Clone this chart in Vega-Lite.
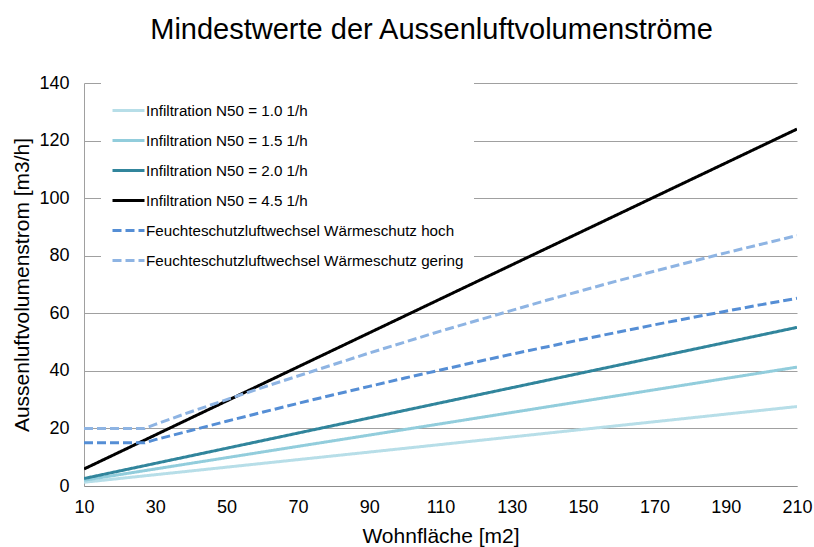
{
  "$schema": "https://vega.github.io/schema/vega-lite/v6.json",
  "width": 713,
  "height": 403,
  "autosize": "none",
  "padding": {"left": 84, "top": 83, "right": 17, "bottom": 61},
  "background": "white",
  "config": {
    "font": "Liberation Sans",
    "view": {"stroke": null}
  },
  "title": {
    "text": "Mindestwerte der Aussenluftvolumenströme",
    "fontSize": 29,
    "fontWeight": "normal",
    "color": "#000000",
    "font": "Liberation Sans",
    "anchor": "middle",
    "dx": -9,
    "offset": 29
  },
  "data": {
    "values": [
      {"s": "Infiltration N50 = 1.0 1/h", "a": 10, "q": 1.3},
      {"s": "Infiltration N50 = 1.0 1/h", "a": 110, "q": 14.4},
      {"s": "Infiltration N50 = 1.0 1/h", "a": 210, "q": 27.6},
      {"s": "Infiltration N50 = 1.5 1/h", "a": 10, "q": 2.0},
      {"s": "Infiltration N50 = 1.5 1/h", "a": 110, "q": 21.6},
      {"s": "Infiltration N50 = 1.5 1/h", "a": 210, "q": 41.3},
      {"s": "Infiltration N50 = 2.0 1/h", "a": 10, "q": 2.6},
      {"s": "Infiltration N50 = 2.0 1/h", "a": 110, "q": 28.9},
      {"s": "Infiltration N50 = 2.0 1/h", "a": 210, "q": 55.1},
      {"s": "Infiltration N50 = 4.5 1/h", "a": 10, "q": 5.9},
      {"s": "Infiltration N50 = 4.5 1/h", "a": 110, "q": 65.0},
      {"s": "Infiltration N50 = 4.5 1/h", "a": 210, "q": 124.0},
      {"s": "Feuchteschutzluftwechsel Wärmeschutz hoch", "a": 10, "q": 15},
      {"s": "Feuchteschutzluftwechsel Wärmeschutz hoch", "a": 27, "q": 15},
      {"s": "Feuchteschutzluftwechsel Wärmeschutz hoch", "a": 30, "q": 16.1},
      {"s": "Feuchteschutzluftwechsel Wärmeschutz hoch", "a": 40, "q": 19.3},
      {"s": "Feuchteschutzluftwechsel Wärmeschutz hoch", "a": 50, "q": 22.5},
      {"s": "Feuchteschutzluftwechsel Wärmeschutz hoch", "a": 60, "q": 25.6},
      {"s": "Feuchteschutzluftwechsel Wärmeschutz hoch", "a": 70, "q": 28.7},
      {"s": "Feuchteschutzluftwechsel Wärmeschutz hoch", "a": 80, "q": 31.7},
      {"s": "Feuchteschutzluftwechsel Wärmeschutz hoch", "a": 90, "q": 34.6},
      {"s": "Feuchteschutzluftwechsel Wärmeschutz hoch", "a": 100, "q": 37.5},
      {"s": "Feuchteschutzluftwechsel Wärmeschutz hoch", "a": 110, "q": 40.3},
      {"s": "Feuchteschutzluftwechsel Wärmeschutz hoch", "a": 120, "q": 43.1},
      {"s": "Feuchteschutzluftwechsel Wärmeschutz hoch", "a": 130, "q": 45.8},
      {"s": "Feuchteschutzluftwechsel Wärmeschutz hoch", "a": 140, "q": 48.4},
      {"s": "Feuchteschutzluftwechsel Wärmeschutz hoch", "a": 150, "q": 51.0},
      {"s": "Feuchteschutzluftwechsel Wärmeschutz hoch", "a": 160, "q": 53.5},
      {"s": "Feuchteschutzluftwechsel Wärmeschutz hoch", "a": 170, "q": 56.0},
      {"s": "Feuchteschutzluftwechsel Wärmeschutz hoch", "a": 180, "q": 58.4},
      {"s": "Feuchteschutzluftwechsel Wärmeschutz hoch", "a": 190, "q": 60.7},
      {"s": "Feuchteschutzluftwechsel Wärmeschutz hoch", "a": 200, "q": 63.0},
      {"s": "Feuchteschutzluftwechsel Wärmeschutz hoch", "a": 210, "q": 65.2},
      {"s": "Feuchteschutzluftwechsel Wärmeschutz gering", "a": 10, "q": 20},
      {"s": "Feuchteschutzluftwechsel Wärmeschutz gering", "a": 27, "q": 20},
      {"s": "Feuchteschutzluftwechsel Wärmeschutz gering", "a": 30, "q": 21.4},
      {"s": "Feuchteschutzluftwechsel Wärmeschutz gering", "a": 40, "q": 25.8},
      {"s": "Feuchteschutzluftwechsel Wärmeschutz gering", "a": 50, "q": 30.0},
      {"s": "Feuchteschutzluftwechsel Wärmeschutz gering", "a": 60, "q": 34.2},
      {"s": "Feuchteschutzluftwechsel Wärmeschutz gering", "a": 70, "q": 38.2},
      {"s": "Feuchteschutzluftwechsel Wärmeschutz gering", "a": 80, "q": 42.2},
      {"s": "Feuchteschutzluftwechsel Wärmeschutz gering", "a": 90, "q": 46.2},
      {"s": "Feuchteschutzluftwechsel Wärmeschutz gering", "a": 100, "q": 50.0},
      {"s": "Feuchteschutzluftwechsel Wärmeschutz gering", "a": 110, "q": 53.8},
      {"s": "Feuchteschutzluftwechsel Wärmeschutz gering", "a": 120, "q": 57.4},
      {"s": "Feuchteschutzluftwechsel Wärmeschutz gering", "a": 130, "q": 61.0},
      {"s": "Feuchteschutzluftwechsel Wärmeschutz gering", "a": 140, "q": 64.6},
      {"s": "Feuchteschutzluftwechsel Wärmeschutz gering", "a": 150, "q": 68.0},
      {"s": "Feuchteschutzluftwechsel Wärmeschutz gering", "a": 160, "q": 71.4},
      {"s": "Feuchteschutzluftwechsel Wärmeschutz gering", "a": 170, "q": 74.6},
      {"s": "Feuchteschutzluftwechsel Wärmeschutz gering", "a": 180, "q": 77.8},
      {"s": "Feuchteschutzluftwechsel Wärmeschutz gering", "a": 190, "q": 81.0},
      {"s": "Feuchteschutzluftwechsel Wärmeschutz gering", "a": 200, "q": 84.0},
      {"s": "Feuchteschutzluftwechsel Wärmeschutz gering", "a": 210, "q": 87.0}
    ]
  },
  "mark": {"type": "line", "strokeWidth": 3, "strokeCap": "butt", "clip": true},
  "encoding": {
    "x": {
      "field": "a",
      "type": "quantitative",
      "title": "Wohnfläche [m2]",
      "scale": {"domain": [10, 210], "nice": false, "zero": false},
      "axis": {
        "values": [10, 30, 50, 70, 90, 110, 130, 150, 170, 190, 210],
        "grid": false,
        "ticks": false,
        "domainColor": "#8c8c8c",
        "domainWidth": 1,
        "labelFontSize": 18,
        "labelColor": "#000000",
        "labelPadding": 12,
        "labelFlush": false,
        "titleFontSize": 21,
        "titleFontWeight": "normal",
        "titleColor": "#000000",
        "titlePadding": 9
      }
    },
    "y": {
      "field": "q",
      "type": "quantitative",
      "title": "Aussenluftvolumenstrom [m3/h]",
      "scale": {"domain": [0, 140], "nice": false},
      "axis": {
        "values": [0, 20, 40, 60, 80, 100, 120, 140],
        "grid": true,
        "gridColor": "#a0a0a0",
        "gridWidth": 1,
        "ticks": false,
        "domainColor": "#a0a0a0",
        "labelFontSize": 18,
        "labelColor": "#000000",
        "labelPadding": 15,
        "labelFlush": false,
        "titleFontSize": 21,
        "titleFontWeight": "normal",
        "titleColor": "#000000",
        "titlePadding": 6
      }
    },
    "color": {
      "field": "s",
      "type": "nominal",
      "title": null,
      "sort": null,
      "scale": {
        "domain": [
          "Infiltration N50 = 1.0 1/h",
          "Infiltration N50 = 1.5 1/h",
          "Infiltration N50 = 2.0 1/h",
          "Infiltration N50 = 4.5 1/h",
          "Feuchteschutzluftwechsel Wärmeschutz hoch",
          "Feuchteschutzluftwechsel Wärmeschutz gering"
        ],
        "range": ["#b7dee8", "#92cddc", "#31859c", "#000000", "#558ed5", "#8eb4e3"]
      },
      "legend": {
        "orient": "none",
        "legendX": 17,
        "legendY": 0,
        "padding": 10,
        "fillColor": "white",
        "symbolType": "stroke",
        "symbolSize": 1024,
        "symbolStrokeWidth": 3,
        "rowPadding": 4,
        "labelOffset": 0,
        "labelFontSize": 15.2,
        "labelColor": "#000000",
        "labelLimit": 500
      }
    },
    "strokeDash": {
      "field": "s",
      "type": "nominal",
      "title": null,
      "sort": null,
      "scale": {
        "domain": [
          "Infiltration N50 = 1.0 1/h",
          "Infiltration N50 = 1.5 1/h",
          "Infiltration N50 = 2.0 1/h",
          "Infiltration N50 = 4.5 1/h",
          "Feuchteschutzluftwechsel Wärmeschutz hoch",
          "Feuchteschutzluftwechsel Wärmeschutz gering"
        ],
        "range": [[1, 0], [1, 0], [1, 0], [1, 0], [9, 4], [9, 4]]
      },
      "legend": {
        "orient": "none",
        "legendX": 17,
        "legendY": 0,
        "padding": 10,
        "fillColor": "white",
        "symbolType": "stroke",
        "symbolSize": 1024,
        "symbolStrokeWidth": 3,
        "rowPadding": 4,
        "labelOffset": 0,
        "labelFontSize": 15.2,
        "labelColor": "#000000",
        "labelLimit": 500
      }
    }
  }
}
